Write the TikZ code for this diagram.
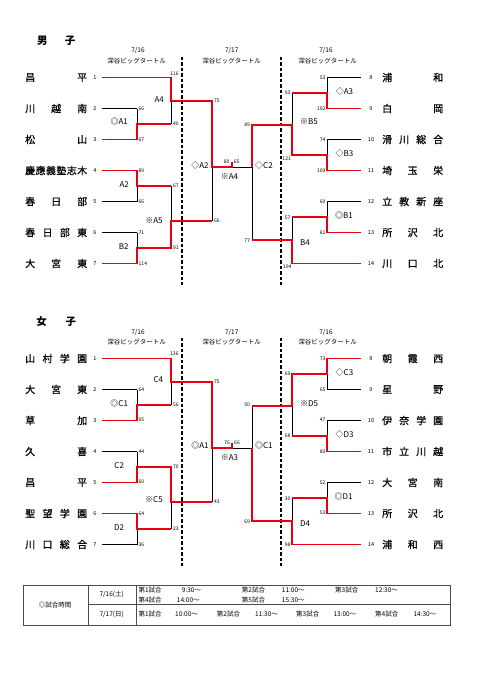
\documentclass[tikz,border=0pt]{standalone}
\usepackage{fontspec}
\setmainfont{Noto Sans CJK JP}
\newfontfamily\nmfont[FakeBold=0.6]{Noto Sans CJK JP}
\definecolor{myred}{RGB}{230,0,18}
\newcommand\bskel{%
 \draw[dsh] (182,56.5)--(182,284.5);
 \draw[dsh] (281,56.5)--(281,284.5);
 \draw[blk] (102,77.5)--(171,77.5);
 \foreach \yy in {108.5,139.5,170.5,201.5,232.5,263.5} {\draw[blk] (102,\yy)--(137,\yy);}
 \foreach \yy in {77.5,108.5,139.5,170.5,201.5,232.5} {\draw[blk] (327,\yy)--(361,\yy);}
 \draw[blk] (292,263.5)--(361,263.5);
 \draw[blk] (137,108.5)--(137,139.5) (137,170.5)--(137,201.5) (137,232.5)--(137,263.5);
 \draw[blk] (137,124)--(171,124) (137,186)--(171,186) (137,248)--(171,248);
 \draw[blk] (171,77.5)--(171,124) (171,186)--(171,248);
 \draw[blk] (171,100.7)--(212,100.7) (171,221)--(212,221);
 \draw[blk] (212,100.7)--(212,221);
 \draw[blk] (212,167)--(252,167);
 \draw[blk] (327,77.5)--(327,108.5) (327,139.5)--(327,170.5) (327,201.5)--(327,232.5);
 \draw[blk] (292,93)--(327,93) (292,155)--(327,155) (292,217)--(327,217);
 \draw[blk] (292,93)--(292,155) (292,217)--(292,263.5);
 \draw[blk] (252,124.7)--(292,124.7) (252,240)--(292,240);
 \draw[blk] (252,124.7)--(252,240);
}
\begin{document}
\begin{tikzpicture}[x=1pt,y=-1pt,
  blk/.style={line width=0.9pt,draw=black},
  win/.style={line width=1.7pt,draw=myred,line join=miter},
  dsh/.style={line width=1.1pt,draw=black,dash pattern=on 3.5pt off 2pt},
  sc/.style={font=\fontsize{5}{6}\selectfont,inner sep=0pt},
  lab/.style={font=\fontsize{8}{9}\selectfont,inner sep=0pt},
  tn/.style={font=\nmfont\fontsize{10}{12}\selectfont,inner sep=0pt,anchor=west},
  tno/.style={font=\fontsize{5.5}{6}\selectfont,inner sep=0pt},
  hd/.style={font=\fontsize{6.5}{7}\selectfont,inner sep=0pt},
  ttl/.style={font=\fontsize{10.5}{12}\selectfont\bfseries,inner sep=0pt},
  tb/.style={font=\fontsize{6.5}{7}\selectfont,inner sep=0pt,anchor=west},
  tbl/.style={line width=0.8pt,draw=black!70}
]
\path[use as bounding box,fill=white] (0,0) rectangle (481,680);

% ================= MEN =================
\node[ttl] (mt1) at (42.3,40.8) {男};
\node[ttl] (mt2) at (70,40.8) {子};
\node[hd] (mh1) at (138,51) {7/16};
\node[hd] (mh2) at (136.5,61) {深谷ビッグタートル};
\node[hd] (mh3) at (231.7,51) {7/17};
\node[hd] (mh4) at (231.7,61) {深谷ビッグタートル};
\node[hd] (mh5) at (326,51) {7/16};
\node[hd] (mh6) at (327.5,61) {深谷ビッグタートル};

\bskel
\draw[win] (102,77.5)--(171,77.5)--(171,100.7)--(212,100.7)--(212,167)--(232,167)--(232,161.5);
\draw[win] (102,139.5)--(137,139.5)--(137,124)--(171,124);
\draw[win] (102,170.5)--(137,170.5)--(137,186)--(171,186);
\draw[win] (102,263.5)--(137,263.5)--(137,248)--(171,248)--(171,221)--(212,221);
\draw[win] (361,108.5)--(327,108.5)--(327,93)--(292,93);
\draw[win] (361,170.5)--(327,170.5)--(327,155)--(292,155)--(292,124.7)--(252,124.7)--(252,167);
\draw[win] (361,232.5)--(327,232.5)--(327,217)--(292,217);
\draw[win] (361,263.5)--(292,263.5)--(292,240)--(252,240);

\foreach \i/\yy/\t in {1/77.5/{昌\hfill 平},2/108.5/{川\hfill 越\hfill 南},3/139.5/{松\hfill 山},
  4/170.5/{慶\hfill 應\hfill 義\hfill 塾\hfill 志\hfill 木},5/201.5/{春\hfill 日\hfill 部},
  6/232.5/{春\hfill 日\hfill 部\hfill 東},7/263.5/{大\hfill 宮\hfill 東}}
  {\node[tn] (mn\i) at (25,\yy) {\makebox[62pt][s]{\t}};
   \node[tno] (mno\i) at (95,\yy) {\i};}
\foreach \i/\yy/\t in {8/77.5/{浦\hfill 和},9/108.5/{白\hfill 岡},10/139.5/{滑\hfill 川\hfill 総\hfill 合},
  11/170.5/{埼\hfill 玉\hfill 栄},12/201.5/{立\hfill 教\hfill 新\hfill 座},
  13/232.5/{所\hfill 沢\hfill 北},14/263.5/{川\hfill 口\hfill 北}}
  {\node[tn] (mn\i) at (382,\yy) {\makebox[61pt][s]{\t}};
   \node[tno] (mno\i) at (371,\yy) {\i};}

% scores men
\foreach \k/\xx/\yy/\t in {a/138.5/109/66,b/138.5/139.5/67,c/138.5/170.7/89,d/138.5/201.7/66,
  e/138.5/232.7/71,f/138.5/263.3/114,g/173/124/40,h/173/186/67,i/173/248/91,
  j/214/101/75,k/214/221/66}
  {\node[sc,anchor=west] (ms\k) at (\xx,\yy) {\t};}
\node[sc,anchor=west] (msl) at (170,73.5) {116};
\node[sc] (msm) at (226.7,162) {80};
\node[sc] (msn) at (236.7,162) {65};
\foreach \k/\xx/\yy/\t in {a/325.5/77.7/53,b/325.5/109/102,c/325.5/139.5/74,d/325.5/170.5/100,
  e/325.5/201.5/60,f/325.5/232.7/81,g/290.5/92.7/93,h/291/159/121,i/290.5/217.3/57,
  j/291.5/266.8/104,k/250/124.3/89,l/250/240.3/77}
  {\node[sc,anchor=east] (mr\k) at (\xx,\yy) {\t};}

% match labels men
\node[lab] (ml1) at (159.2,99.2) {A4};
\node[lab] (ml2) at (119.2,121.7) {◎A1};
\node[lab] (ml3) at (124.2,184.8) {A2};
\node[lab] (ml4) at (123.8,246.8) {B2};
\node[lab] (ml5) at (154,220.3) {※A5};
\node[lab] (ml6) at (200,165) {◇A2};
\node[lab] (ml7) at (229.5,177) {※A4};
\node[lab] (ml8) at (264,165) {◇C2};
\node[lab] (ml9) at (344.5,91.3) {◇A3};
\node[lab] (ml10) at (309,121.7) {※B5};
\node[lab] (ml11) at (344.5,153.7) {◇B3};
\node[lab] (ml12) at (344,215) {◎B1};
\node[lab] (ml13) at (305,242.7) {B4};

% ================= WOMEN =================
\node[ttl] (wt1) at (41.7,321.7) {女};
\node[ttl] (wt2) at (70.8,321.7) {子};
\node[hd] (wh1) at (138,332) {7/16};
\node[hd] (wh2) at (136.5,342) {深谷ビッグタートル};
\node[hd] (wh3) at (231.7,332) {7/17};
\node[hd] (wh4) at (231.7,342) {深谷ビッグタートル};
\node[hd] (wh5) at (326,332) {7/16};
\node[hd] (wh6) at (327.5,342) {深谷ビッグタートル};

\begin{scope}[shift={(0,281)}]
\bskel
\draw[win] (102,77.5)--(171,77.5)--(171,100.7)--(212,100.7)--(212,167)--(232,167)--(232,161.5);
\draw[win] (102,139.5)--(137,139.5)--(137,124)--(171,124);
\draw[win] (102,201.5)--(137,201.5)--(137,186)--(171,186)--(171,221)--(212,221);
\draw[win] (102,232.5)--(137,232.5)--(137,248)--(171,248);
\draw[win] (361,77.5)--(327,77.5)--(327,93)--(292,93)--(292,124.7)--(252,124.7);
\draw[win] (361,170.5)--(327,170.5)--(327,155)--(292,155);
\draw[win] (361,232.5)--(327,232.5)--(327,217)--(292,217);
\draw[win] (361,263.5)--(292,263.5)--(292,240)--(252,240)--(252,167);
\end{scope}

\foreach \i/\yy/\t in {1/358.5/{山\hfill 村\hfill 学\hfill 園},2/389.5/{大\hfill 宮\hfill 東},3/420.5/{草\hfill 加},
  4/451.5/{久\hfill 喜},5/482.5/{昌\hfill 平},
  6/513.5/{聖\hfill 望\hfill 学\hfill 園},7/544.5/{川\hfill 口\hfill 総\hfill 合}}
  {\node[tn] (wn\i) at (25,\yy) {\makebox[62pt][s]{\t}};
   \node[tno] (wno\i) at (95,\yy) {\i};}
\foreach \i/\yy/\t in {8/358.5/{朝\hfill 霞\hfill 西},9/389.5/{星\hfill 野},10/420.5/{伊\hfill 奈\hfill 学\hfill 園},
  11/451.5/{市\hfill 立\hfill 川\hfill 越},12/482.5/{大\hfill 宮\hfill 南},
  13/513.5/{所\hfill 沢\hfill 北},14/544.5/{浦\hfill 和\hfill 西}}
  {\node[tn] (wn\i) at (382,\yy) {\makebox[61pt][s]{\t}};
   \node[tno] (wno\i) at (371,\yy) {\i};}

\foreach \k/\xx/\yy/\t in {a/138.5/389.3/64,b/138.5/419.5/95,c/138.5/452/44,d/138.5/482.2/60,
  e/138.5/513.8/64,f/138.5/544.7/36,g/173/404.7/56,h/173/467/70,i/173/528.8/23,
  j/214/381.7/75,k/214/502/43}
  {\node[sc,anchor=west] (ws\k) at (\xx,\yy) {\t};}
\node[sc,anchor=west] (wsl) at (170,353.8) {136};
\node[sc] (wsm) at (227.2,443) {76};
\node[sc] (wsn) at (237,443) {66};
\foreach \k/\xx/\yy/\t in {a/325.5/358.7/73,b/325.5/389.3/65,c/325.5/419.5/47,d/325.5/452/80,
  e/325.5/482.8/52,f/325.5/513/53,g/290.5/374/69,h/290.5/436/68,i/290.5/498.7/30,
  j/290.5/544.8/98,k/250/404.5/50,l/250/521.3/69}
  {\node[sc,anchor=east] (wr\k) at (\xx,\yy) {\t};}

\node[lab] (wl1) at (158.3,380) {C4};
\node[lab] (wl2) at (119.2,403) {◎C1};
\node[lab] (wl3) at (119.2,465.2) {C2};
\node[lab] (wl4) at (119.2,527.2) {D2};
\node[lab] (wl5) at (154,500) {※C5};
\node[lab] (wl6) at (200,445.7) {◎A1};
\node[lab] (wl7) at (229.5,457.5) {※A3};
\node[lab] (wl8) at (263.8,445.7) {◎C1};
\node[lab] (wl9) at (344.5,372.8) {◇C3};
\node[lab] (wl10) at (309,403.3) {※D5};
\node[lab] (wl11) at (344.5,434) {◇D3};
\node[lab] (wl12) at (343.7,496) {◎D1};
\node[lab] (wl13) at (305,523.3) {D4};

% ================= TABLE =================
\draw[tbl] (23.3,585) rectangle (450,625);
\draw[tbl] (88.3,585)--(88.3,625) (136,585)--(136,625) (88.3,604.3)--(450,604.3);
\node[tb,anchor=center] (tt0) at (55,605) {◎試合時間};
\node[tb,anchor=center] (td1) at (111.7,594.5) {7/16(土)};
\node[tb,anchor=center] (td2) at (111.7,614.5) {7/17(日)};
\node[tb] (r1a) at (138.3,590) {第1試合};
\node[tb] (r1b) at (181.7,590) {9:30～};
\node[tb] (r1c) at (241.7,590) {第2試合};
\node[tb] (r1d) at (281.7,590) {11:00～};
\node[tb] (r1e) at (335,590) {第3試合};
\node[tb] (r1f) at (375,590) {12:30～};
\node[tb] (r2a) at (138.3,600) {第4試合};
\node[tb] (r2b) at (176.7,600) {14:00～};
\node[tb] (r2c) at (241.7,600) {第5試合};
\node[tb] (r2d) at (281.7,600) {15:30～};
\node[tb] (r3a) at (138.3,614.5) {第1試合};
\node[tb] (r3b) at (175,614.5) {10:00～};
\node[tb] (r3c) at (216.7,614.5) {第2試合};
\node[tb] (r3d) at (255,614.5) {11:30～};
\node[tb] (r3e) at (296,614.5) {第3試合};
\node[tb] (r3f) at (333.3,614.5) {13:00～};
\node[tb] (r3g) at (375,614.5) {第4試合};
\node[tb] (r3h) at (413.3,614.5) {14:30～};
\end{tikzpicture}
\end{document}
